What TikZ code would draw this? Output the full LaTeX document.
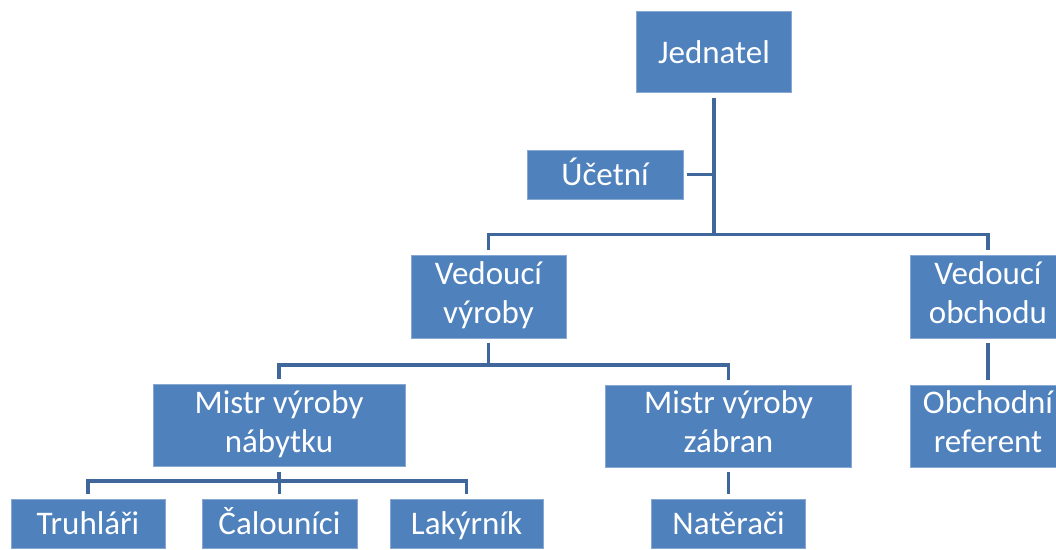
\documentclass[tikz,border=0pt]{standalone}
\usepackage{fontspec}
\newfontfamily\unitfont{Carlito}
\definecolor{boxblue}{HTML}{4F81BD}
\definecolor{boxedge}{HTML}{86A8D3}
\definecolor{linkblue}{HTML}{3F679B}
\tikzset{
  unit/.style={rectangle, fill=boxblue, draw=boxedge, line width=0.8pt,
    text=white, inner sep=0pt, align=center,
    font=\unitfont\fontsize{33}{39}\selectfont},
  oneline/.style={unit, text height=22pt, text depth=0pt},
  twoline/.style={unit, text height=60pt, text depth=6.5pt},
  conn/.style={draw=linkblue, line width=3.3pt, shorten <=5pt, shorten >=5pt}
}
\begin{document}
\begin{tikzpicture}[x=1pt,y=-1pt]
  \useasboundingbox (0,0) rectangle (1056,549);
  \fill[white] (0,0) rectangle (1056,549);
  \clip (0,0) rectangle (1056,549);

  % units of the organisation
  \node[oneline, minimum width=155pt, minimum height=81pt] (jed) at (714,52) {Jednatel};
  \node[oneline, minimum width=156pt, minimum height=49pt] (uc)  at (605,174.5) {Účetní};
  \node[twoline, minimum width=155pt, minimum height=83pt] (vv)  at (488.5,296.5) {Vedoucí\\výroby};
  \node[twoline, minimum width=155pt, minimum height=83pt] (vo)  at (988,296.5) {Vedoucí\\obchodu};
  \node[twoline, minimum width=252pt, minimum height=82pt] (mn)  at (279,425.5) {Mistr výroby\\nábytku};
  \node[twoline, minimum width=246pt, minimum height=82pt] (mz)  at (728.5,426) {Mistr výroby\\zábran};
  \node[twoline, minimum width=155pt, minimum height=82pt] (orf) at (988,426) {Obchodní\\referent};
  \node[oneline, minimum width=154pt, minimum height=49pt] (tr)  at (88,523.5) {Truhláři};
  \node[oneline, minimum width=155pt, minimum height=49pt] (ca)  at (279.5,523.5) {Čalouníci};
  \node[oneline, minimum width=153pt, minimum height=49pt] (la)  at (466.5,523.5) {Lakýrník};
  \node[oneline, minimum width=154pt, minimum height=49pt] (na)  at (728.5,523.5) {Natěrači};

  % heights of the horizontal bus lines
  \coordinate (b1) at (0,234.5);
  \coordinate (b2) at (0,365);
  \coordinate (b3) at (0,481);

  % Jednatel and its staff unit
  \draw[conn, shorten >=0pt] (jed.south) -- (jed.south |- b1);
  \draw[conn, shorten >=0pt, shorten <=4pt] (uc.east) -- (uc.east -| jed.south);
  \draw[conn] (vv.north) -- (vv.north |- b1) -- (vo.north |- b1) -- (vo.north);

  % production branch
  \draw[conn, shorten >=0pt] (vv.south) -- (vv.south |- b2);
  \draw[conn] (mn.north) -- (mn.north |- b2) -- (mz.north |- b2) -- (mz.north);

  % sales branch
  \draw[conn] (vo.south) -- (orf.north);

  % furniture workshop
  \draw[conn, shorten >=0pt] (mn.south) -- (mn.south |- b3);
  \draw[conn] (tr.north) -- (tr.north |- b3) -- (la.north |- b3) -- (la.north);
  \draw[conn, shorten <=0pt] (ca.north |- b3) -- (ca.north);

  % barrier workshop
  \draw[conn] (mz.south) -- (na.north);
\end{tikzpicture}
\end{document}
